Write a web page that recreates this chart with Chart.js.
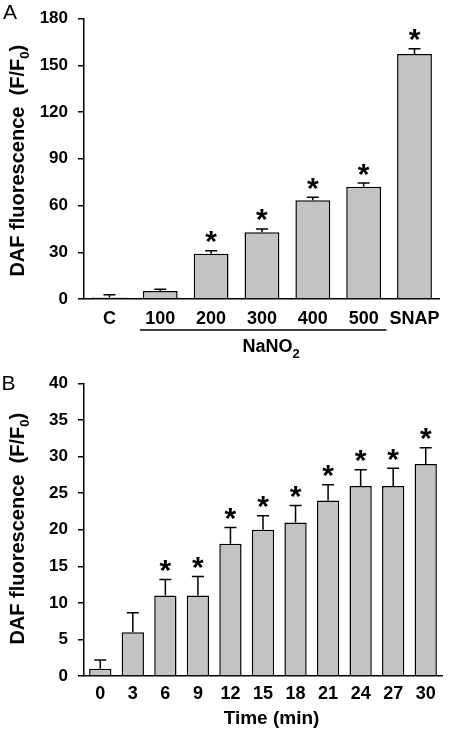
<!DOCTYPE html>
<html>
<head>
<meta charset="utf-8">
<script src="https://cdn.jsdelivr.net/npm/chart.js@4.4.1/dist/chart.umd.min.js"></script>
<style>
    body { margin: 0; background: #fff; }
    canvas { position: absolute; left: 0; }
    #painelA { top: 0; }
    #painelB { top: 365px; }
</style>
</head>
<body>
<canvas id="painelA" width="449" height="365"></canvas>
<canvas id="painelB" width="449" height="370"></canvas>
<script>
// painel A - NaNO2
var categoriasA = ['C', '100', '200', '300', '400', '500', 'SNAP']
var valoresA = [1, 5.2, 29.1, 42.8, 63.4, 72.1, 157.2]
var errosA = [1.7, 1, 1.9, 2.2, 1.9, 2.3, 3.4]
var signifA = [false, false, true, true, true, true, true]
var ticksA = [0, 30, 60, 90, 120, 150, 180]

// painel B - tempo
var categoriasB = ['0', '3', '6', '9', '12', '15', '18', '21', '24', '27', '30']
var valoresB = [1, 6, 11, 11, 18.1, 20, 21, 24, 26, 26, 29]
var errosB = [1.2, 2.65, 2.2, 2.6, 2.2, 1.9, 2.3, 2.15, 2.2, 2.4, 2.2]
var signifB = [false, false, true, true, true, true, true, true, true, true, true]
var ticksB = [0, 5, 10, 15, 20, 25, 30, 35, 40]

var fonte = '"Liberation Sans", Arial, sans-serif'
Chart.defaults.font.family = fonte
Chart.defaults.color = '#000'

function desenhaTituloY(ctx, area, ajuste){
    var partes = [
        {t: 'DAF fluorescence  (F/F', f: 'bold 20px ' + fonte, dy: 7},
        {t: '0', f: 'bold 13px ' + fonte, dy: 12},
        {t: ')', f: 'bold 20px ' + fonte, dy: 7}
    ]
    ctx.save()
    ctx.translate(17, (area.top + area.bottom) / 2 + ajuste)
    ctx.rotate(-Math.PI / 2)
    var total = 0
    partes.forEach(p => { ctx.font = p.f; p.w = ctx.measureText(p.t).width; total += p.w })
    var x = -total / 2
    ctx.textAlign = 'left'
    ctx.textBaseline = 'alphabetic'
    partes.forEach(p => {
        ctx.font = p.f
        ctx.fillText(p.t, x, p.dy)
        x += p.w
    })
    ctx.restore()
}

function criaPlugin(cfg){
    return {
        id: 'extras',
        afterDatasetsDraw(chart){
            var ctx = chart.ctx
            var y = chart.scales.y
            var meta = chart.getDatasetMeta(0)
            ctx.save()
            ctx.strokeStyle = '#000'
            ctx.fillStyle = '#000'
            ctx.lineWidth = 1.5
            meta.data.forEach(function(bar, i){
                var topo = y.getPixelForValue(cfg.valores[i] + cfg.erros[i])
                ctx.beginPath()
                ctx.moveTo(bar.x, bar.y)
                ctx.lineTo(bar.x, topo)
                ctx.moveTo(bar.x - 6, topo)
                ctx.lineTo(bar.x + 6, topo)
                ctx.stroke()
                if(cfg.signif[i]){
                    ctx.font = 'bold 30px ' + fonte
                    ctx.textAlign = 'center'
                    ctx.textBaseline = 'alphabetic'
                    var m = ctx.measureText('*')
                    var meio = topo - 13.5
                    ctx.fillText('*', bar.x, meio + (m.actualBoundingBoxAscent - m.actualBoundingBoxDescent) / 2)
                }
            })
            ctx.restore()
        },
        afterDraw(chart){
            var ctx = chart.ctx
            var area = chart.chartArea
            desenhaTituloY(ctx, area, cfg.ajusteTitulo)

            ctx.save()
            ctx.fillStyle = '#000'
            ctx.font = '21px ' + fonte
            ctx.textAlign = 'left'
            ctx.textBaseline = 'alphabetic'
            ctx.fillText(cfg.letra, cfg.letraX, cfg.letraY)
            ctx.restore()

            if(cfg.extra) cfg.extra(chart)
        }
    }
}

function nano2(chart){
    var ctx = chart.ctx
    var x = chart.scales.x
    var cw = x.getPixelForValue(1) - x.getPixelForValue(0)
    var x1 = x.getPixelForValue(1) - 0.4 * cw
    var x2 = x.getPixelForValue(5) + 0.45 * cw
    ctx.save()
    ctx.strokeStyle = '#000'
    ctx.fillStyle = '#000'
    ctx.lineWidth = 1.5
    ctx.beginPath()
    ctx.moveTo(x1, 330)
    ctx.lineTo(x2, 330)
    ctx.stroke()
    ctx.font = 'bold 18px ' + fonte
    var w1 = ctx.measureText('NaNO').width
    ctx.font = 'bold 13px ' + fonte
    var w2 = ctx.measureText('2').width
    var inicio = (x1 + x2) / 2 + 8 - (w1 + w2) / 2
    ctx.textAlign = 'left'
    ctx.textBaseline = 'alphabetic'
    ctx.font = 'bold 18px ' + fonte
    ctx.fillText('NaNO', inicio, 351.5)
    ctx.font = 'bold 13px ' + fonte
    ctx.fillText('2', inicio + w1, 357.5)
    ctx.restore()
}

function tituloTempo(chart){
    var ctx = chart.ctx
    var area = chart.chartArea
    ctx.save()
    ctx.fillStyle = '#000'
    ctx.font = 'bold 19px ' + fonte
    ctx.textAlign = 'center'
    ctx.textBaseline = 'middle'
    ctx.fillText('Time (min)', (area.left + area.right) / 2 + 8.5, 354)
    ctx.restore()
}

function montaGrafico(id, cfg){
    return new Chart(document.getElementById(id), {
        type: 'bar',
        data: {
            labels: cfg.categorias,
            datasets: [{
                data: cfg.valores,
                backgroundColor: '#c3c3c3',
                borderColor: '#000',
                borderWidth: 1.5,
                barPercentage: 0.685,
                categoryPercentage: 1
            }]
        },
        options: {
            responsive: false,
            animation: false,
            layout: { padding: { top: cfg.topo, right: 7, left: 0, bottom: 0 } },
            plugins: { legend: { display: false }, tooltip: { enabled: false } },
            scales: {
                x: {
                    grid: { display: false, drawTicks: false },
                    border: { color: '#000', width: 1.5 },
                    ticks: { font: { size: 18, weight: 'bold' }, padding: cfg.padX, maxRotation: 0, autoSkip: false },
                    afterFit: function(s){ s.height = cfg.alturaX }
                },
                y: {
                    min: 0,
                    max: cfg.ticks[cfg.ticks.length - 1],
                    grid: { drawOnChartArea: false, color: '#000', lineWidth: 1.5, tickLength: 6 },
                    border: { color: '#000', width: 1.5 },
                    ticks: { font: { size: 17, weight: 'bold', lineHeight: 1 }, padding: 10 },
                    afterBuildTicks: function(s){ s.ticks = cfg.ticks.map(v => ({ value: v })) },
                    afterFit: function(s){ s.width = 84 }
                }
            }
        },
        plugins: [criaPlugin(cfg)]
    })
}

montaGrafico('painelA', {
    categorias: categoriasA, valores: valoresA, erros: errosA, signif: signifA, ticks: ticksA,
    topo: 9, alturaX: 66, padX: 9, ajusteTitulo: 2,
    letra: 'A', letraX: 3, letraY: 19, extra: nano2
})

montaGrafico('painelB', {
    categorias: categoriasB, valores: valoresB, erros: errosB, signif: signifB, ticks: ticksB,
    topo: 17, alturaX: 59, padX: 7, ajusteTitulo: -1,
    letra: 'B', letraX: 1.5, letraY: 25, extra: tituloTempo
})
</script>
</body>
</html>
